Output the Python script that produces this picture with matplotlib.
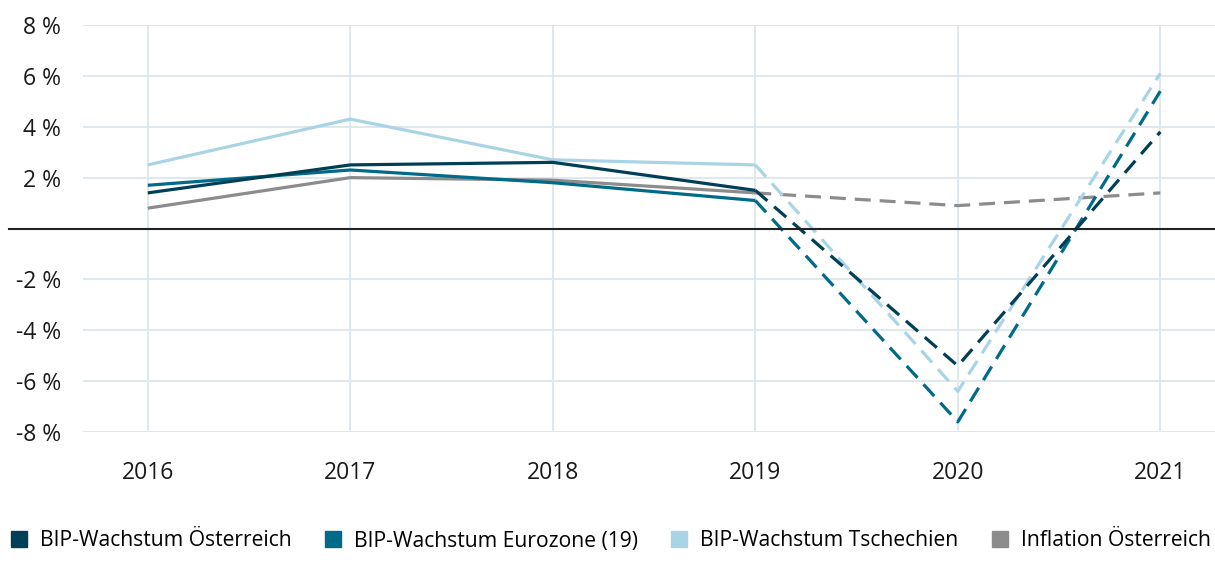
#!/usr/bin/env python3

import matplotlib
matplotlib.use('Agg')
import matplotlib.pyplot as plt
from matplotlib.lines import Line2D

years = [2016, 2017, 2018, 2019, 2020, 2021]
at_gdp = [1.4, 2.5, 2.6, 1.5, -5.4, 3.8]
ez_gdp = [1.7, 2.3, 1.8, 1.1, -7.6, 5.4]
cz_gdp = [2.5, 4.3, 2.7, 2.5, -6.4, 6.1]
at_infl = [0.8, 2.0, 1.9, 1.4, 0.9, 1.4]

labels = ['BIP-Wachstum Österreich', 'BIP-Wachstum Eurozone (19)',
          'BIP-Wachstum Tschechien', 'Inflation Österreich']
colors = ['#003f56', '#006a89', '#a9d4e6', '#8c8c8c']
yticks = [-8, -6, -4, -2, 2, 4, 6, 8]

# index of last actual value, after that forecast (dashed)
split = 3


def main():
    plt.rcParams['font.family'] = ['Open Sans', 'DejaVu Sans']
    fig = plt.figure(figsize=(12.15, 5.62), dpi=100)
    ax = fig.add_axes([83 / 1215, 1 - 432 / 562, 1 - 83 / 1215, (432 - 25) / 562])

    series = [at_gdp, ez_gdp, cz_gdp, at_infl]
    # draw back to front: inflation, czech, euro, austria
    for i in [3, 2, 1, 0]:
        vals = series[i]
        ax.plot(years[:split + 1], vals[:split + 1], color=colors[i], lw=2.3,
                solid_capstyle='butt', zorder=3 + (3 - i))
        ax.plot(years[split:], vals[split:], color=colors[i], lw=2.3,
                linestyle=(0, (5, 2.8)), zorder=3 + (3 - i))

    ax.set_xlim(2015.68, 2021.27)
    ax.set_ylim(-8, 8)
    ax.set_xticks(years)
    ax.set_yticks(yticks)
    ax.set_yticklabels([f'{v} %' for v in yticks])
    ax.tick_params(axis='both', length=0, labelsize=16.5, colors='#1a1a1a')
    ax.tick_params(axis='y', pad=16)
    ax.tick_params(axis='x', pad=21)
    ax.grid(True, color='#dce6eb', lw=1.3)
    ax.set_axisbelow(True)
    for s in ax.spines.values():
        s.set_visible(False)

    # zero line running out past the axes to the left
    ax.plot([-74 / 1132, 1], [0, 0], transform=ax.get_yaxis_transform(),
            color='#222222', lw=1.5, clip_on=False, zorder=10)

    handles = [Line2D([], [], marker='s', linestyle='none', markersize=11.3,
                      markerfacecolor=c, markeredgecolor=c) for c in colors]
    fig.legend(handles, labels, loc='center left', bbox_to_anchor=(2 / 1215, 1 - 541 / 562),
               ncol=4, frameon=False, fontsize=15.2, handlelength=0.8,
               handletextpad=0.6, columnspacing=1.55, borderaxespad=0)

    fig.savefig('out.png', dpi=100)


if __name__ == '__main__':
    main()
